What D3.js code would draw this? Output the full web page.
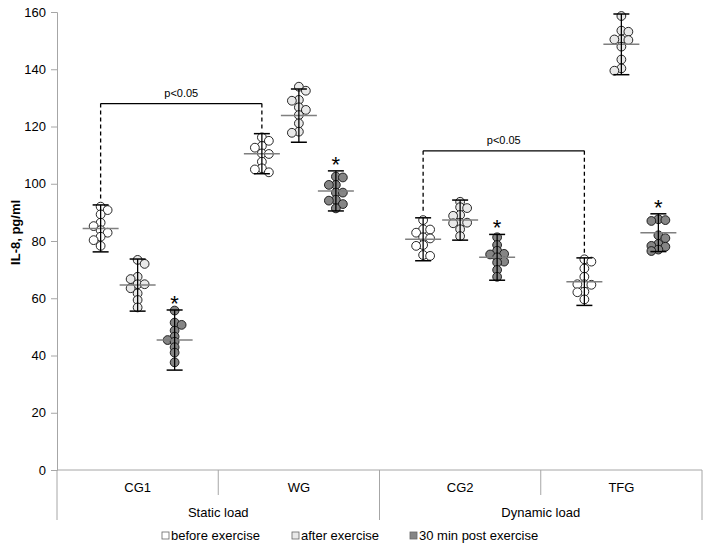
<!DOCTYPE html>
<html>
<head>
<meta charset="utf-8">
<script src="https://cdn.jsdelivr.net/npm/d3@7"></script>
<style>
  body { margin: 0; background: #fff; }
  text { font-family: Arial, "Liberation Sans", sans-serif; }
</style>
</head>
<body>
<div id="chart"></div>
<script>
// ---- data ----
const categories = ["CG1", "WG", "CG2", "TFG"];
const loadGroups = ["Static load", "Dynamic load"];
const phases = ["before exercise", "after exercise", "30 min post exercise"];
const yTicks = [0, 20, 40, 60, 80, 100, 120, 140, 160];

// individual values, one array per phase
const pointsCG1 = [
    [92.0, 90.8, 89.3, 86.4, 85.2, 83.8, 82.9, 81.5, 80.3, 78.3],
    [73.4, 72.0, 67.5, 66.7, 64.9, 64.9, 63.5, 61.7, 59.4, 56.8],
    [55.7, 51.5, 50.7, 48.7, 46.6, 45.4, 44.8, 42.9, 41.0, 37.6]
];
const pointsWG = [
    [116.2, 115.0, 113.2, 112.6, 110.6, 110.4, 107.7, 105.4, 105.0, 104.0],
    [133.9, 132.5, 129.3, 129.0, 126.7, 125.8, 124.0, 121.1, 118.2, 117.8],
    [102.5, 102.2, 99.6, 99.6, 96.9, 96.9, 94.4, 94.1, 92.9, 91.4]
];
const pointsCG2 = [
    [87.3, 84.1, 84.0, 82.9, 81.3, 80.9, 78.6, 78.3, 75.1, 74.8],
    [93.7, 91.8, 91.5, 89.1, 88.8, 86.4, 86.4, 86.2, 84.1, 81.7],
    [81.3, 78.6, 76.6, 75.5, 75.3, 74.3, 72.8, 72.5, 69.9, 67.5]
];
const pointsTFG = [
    [73.6, 72.8, 70.4, 67.5, 64.9, 64.9, 64.7, 62.3, 62.1, 59.6],
    [158.6, 153.5, 153.1, 150.4, 150.4, 150.2, 147.9, 143.4, 140.3, 139.5],
    [87.6, 87.3, 87.0, 82.0, 81.0, 79.0, 78.3, 78.0, 77.0, 76.5]
];

// mean and error-bar half width per category, in phase order
const meansCG1 = [84.4, 64.6, 45.4], sdCG1 = [8.2, 9.1, 10.5];
const meansWG  = [110.5, 123.8, 97.5], sdWG = [7.0, 9.3, 7.0];
const meansCG2 = [80.6, 87.3, 74.3], sdCG2 = [7.5, 7.0, 8.0];
const meansTFG = [65.8, 148.7, 82.9], sdTFG = [8.3, 10.6, 6.6];

// significance brackets between "before exercise" clusters
const brackets = [
    { from: "CG1", to: "WG", level: 128, label: "p<0.05" },
    { from: "CG2", to: "TFG", level: 111.5, label: "p<0.05" }
];
const starredPhase = "30 min post exercise";

// ---- chart ----
const points = { CG1: pointsCG1, WG: pointsWG, CG2: pointsCG2, TFG: pointsTFG };
const means = { CG1: meansCG1, WG: meansWG, CG2: meansCG2, TFG: meansTFG };
const sds = { CG1: sdCG1, WG: sdWG, CG2: sdCG2, TFG: sdTFG };

const width = 706, height = 548;
const margin = { top: 12, right: 4, bottom: 78, left: 57 };

const svg = d3.select("#chart").append("svg")
    .attr("width", width)
    .attr("height", height);

const x = d3.scaleBand()
    .domain(categories)
    .range([margin.left, width - margin.right])
    .paddingInner(0).paddingOuter(0);

const phaseX = d3.scalePoint()
    .domain(phases)
    .range([-37, 37]);

const y = d3.scaleLinear()
    .domain([0, 160])
    .range([height - margin.bottom, margin.top]);

const fills = d3.scaleOrdinal()
    .domain(phases)
    .range(["#ffffff", "#e9e9e9", "#858585"]);

const axisGrey = "#a6a6a6";

// y axis
const yAxis = svg.append("g")
    .attr("transform", `translate(${margin.left},0)`)
    .call(d3.axisLeft(y).tickValues(yTicks).tickSize(6).tickPadding(5));
yAxis.select(".domain").attr("stroke", axisGrey);
yAxis.selectAll(".tick line").attr("stroke", axisGrey);
yAxis.selectAll(".tick text")
    .attr("fill", "#000")
    .style("font-size", "13px")
    .style("font-family", "Arial, 'Liberation Sans', sans-serif");

svg.append("text")
    .attr("transform", `translate(20, ${y(83)}) rotate(-90)`)
    .attr("text-anchor", "middle")
    .style("font-size", "13px")
    .style("font-weight", "bold")
    .text("IL-8, pg/ml");

// x axis: baseline, category and group dividers
const y0 = y(0);
svg.append("line")
    .attr("x1", x.range()[0]).attr("x2", x.range()[1])
    .attr("y1", y0).attr("y2", y0)
    .attr("stroke", axisGrey);

const edges = [x.range()[0]].concat(categories.map(c => x(c) + x.bandwidth()));
edges.forEach((ex, i) => {
    const long = i % 2 === 0;
    svg.append("line")
        .attr("x1", ex).attr("x2", ex)
        .attr("y1", y0).attr("y2", y0 + (long ? 50 : 25))
        .attr("stroke", axisGrey);
});

svg.selectAll(".cat-label")
    .data(categories)
    .join("text")
    .attr("class", "cat-label")
    .attr("x", d => x(d) + x.bandwidth() / 2)
    .attr("y", y0 + 22)
    .attr("text-anchor", "middle")
    .style("font-size", "13px")
    .text(d => d);

svg.selectAll(".group-label")
    .data(loadGroups)
    .join("text")
    .attr("class", "group-label")
    .attr("x", (d, i) => x(categories[i * 2]) + x.bandwidth())
    .attr("y", y0 + 47)
    .attr("text-anchor", "middle")
    .style("font-size", "13px")
    .text(d => d);

// simple swarm: stack near the centre, push colliding points sideways
function swarm(values) {
    const placed = [];
    const dx = 7, minDy = 5;
    let flip = 1;
    return values.map(v => {
        const py = y(v);
        const tries = [0, dx * flip, -dx * flip, 2 * dx * flip, -2 * dx * flip];
        let off = tries[0];
        for (const t of tries) {
            const hit = placed.some(p => Math.abs(p.off - t) < dx * 0.9 && Math.abs(p.py - py) < minDy);
            if (!hit) { off = t; break; }
        }
        if (off !== 0) flip = -flip;
        placed.push({ off, py });
        return { v, off };
    });
}

const clusters = [];
categories.forEach(c => {
    phases.forEach((p, i) => {
        clusters.push({
            cat: c, phase: p,
            cx: x(c) + x.bandwidth() / 2 + phaseX(p),
            values: points[c][i],
            mean: means[c][i],
            sd: sds[c][i]
        });
    });
});

const cl = svg.selectAll(".cluster")
    .data(clusters)
    .join("g")
    .attr("class", "cluster");

cl.selectAll("circle")
    .data(d => swarm(d.values).map(s => Object.assign({ cx: d.cx, phase: d.phase }, s)))
    .join("circle")
    .attr("cx", d => d.cx + d.off)
    .attr("cy", d => y(d.v))
    .attr("r", 4.4)
    .attr("fill", d => fills(d.phase))
    .attr("stroke", "#111")
    .attr("stroke-width", 0.9);

// mean line
cl.append("line")
    .attr("x1", d => d.cx - 18).attr("x2", d => d.cx + 18)
    .attr("y1", d => y(d.mean)).attr("y2", d => y(d.mean))
    .attr("stroke", "#7f7f7f")
    .attr("stroke-width", 1.5);

// error bars
cl.append("line")
    .attr("x1", d => d.cx).attr("x2", d => d.cx)
    .attr("y1", d => y(d.mean + d.sd)).attr("y2", d => y(d.mean - d.sd))
    .attr("stroke", "#000")
    .attr("stroke-width", 1.3);
[1, -1].forEach(sgn => {
    cl.append("line")
        .attr("x1", d => d.cx - 8).attr("x2", d => d.cx + 8)
        .attr("y1", d => y(d.mean + sgn * d.sd)).attr("y2", d => y(d.mean + sgn * d.sd))
        .attr("stroke", "#000")
        .attr("stroke-width", 1.5);
});

// asterisks
svg.selectAll(".star")
    .data(clusters.filter(d => d.phase === starredPhase))
    .join("text")
    .attr("class", "star")
    .attr("x", d => d.cx)
    .attr("y", d => y(d.mean + d.sd) + 1)
    .attr("text-anchor", "middle")
    .style("font-size", "22px")
    .text("*");

// significance brackets
brackets.forEach(b => {
    const c1 = clusters.find(d => d.cat === b.from && d.phase === phases[0]);
    const c2 = clusters.find(d => d.cat === b.to && d.phase === phases[0]);
    const by = y(b.level);
    svg.append("line")
        .attr("x1", c1.cx).attr("x2", c2.cx)
        .attr("y1", by).attr("y2", by)
        .attr("stroke", "#000").attr("stroke-width", 1.3);
    [c1, c2].forEach(c => {
        svg.append("line")
            .attr("x1", c.cx).attr("x2", c.cx)
            .attr("y1", by).attr("y2", y(c.mean + c.sd) - 5)
            .attr("stroke", "#000").attr("stroke-width", 1.3)
            .attr("stroke-dasharray", "4,3");
    });
    svg.append("text")
        .attr("x", (c1.cx + c2.cx) / 2)
        .attr("y", by - 7)
        .attr("text-anchor", "middle")
        .style("font-size", "11px")
        .text(b.label);
});

// legend
const legendX = [162, 292, 410];
const legend = svg.selectAll(".legend")
    .data(phases)
    .join("g")
    .attr("class", "legend")
    .attr("transform", (d, i) => `translate(${legendX[i]}, ${y0 + 70})`);
legend.append("rect")
    .attr("x", 0).attr("y", -8)
    .attr("width", 7).attr("height", 7)
    .attr("fill", d => fills(d))
    .attr("stroke", "#666")
    .attr("stroke-width", 0.8);
legend.append("text")
    .attr("x", 9)
    .attr("y", 0)
    .style("font-size", "13px")
    .text(d => d);
</script>
</body>
</html>
